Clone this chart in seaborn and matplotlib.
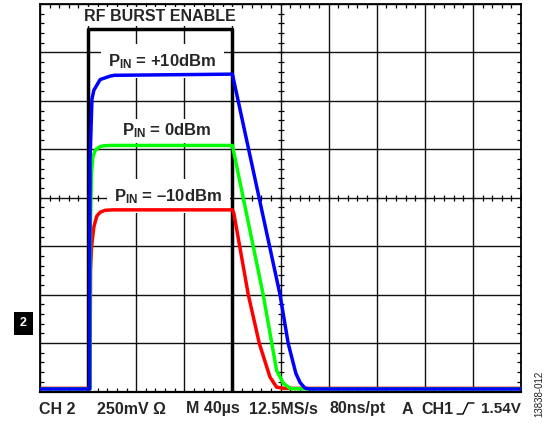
import numpy as np
import pandas as pd
import matplotlib
matplotlib.use("Agg")
import matplotlib.pyplot as plt
from matplotlib.lines import Line2D
import seaborn as sns

# ---- data (time in µs, 40 µs/div; level in V, 250 mV/div) ----
burst_t = [0, 40, 40, 160, 160, 400]
burst_v = [-0.012, -0.012, 1.8725, 1.8725, -0.012, -0.012]

red_t = [0, 41.6, 42, 42.8, 43.6, 44.8, 47.2, 50, 54, 60, 160, 161.2, 173.2, 182.4, 191.2, 196.8, 203.6, 400]
red_v = [0.0162, 0.0162, 0.625, 0.7375, 0.7875, 0.85, 0.905, 0.925, 0.935, 0.9375, 0.9375, 0.92, 0.5, 0.2475, 0.075, 0.022, 0.0162, 0.0162]

green_t = [0, 41.6, 42, 42.8, 44, 46, 48.8, 52, 58, 160, 185.6, 192.8, 196.8, 202.4, 208, 212, 400]
green_v = [0.014, 0.014, 0.875, 1.125, 1.2125, 1.245, 1.26, 1.2675, 1.27, 1.27, 0.5, 0.2475, 0.1075, 0.042, 0.016, 0.014, 0.014]

blue_t = [0, 41.2, 41.4, 41.6, 43.2, 44.8, 50, 58.4, 62, 160, 199.6, 206.4, 212.8, 216.4, 220.4, 224.4, 400]
blue_v = [0.013, 0.013, 0.75, 1.19, 1.51, 1.555, 1.61, 1.628, 1.632, 1.638, 0.5, 0.248, 0.093, 0.045, 0.017, 0.013, 0.013]

trace_labels = ["P$_{\\mathbf{IN}}$ = +10dBm", "P$_{\\mathbf{IN}}$ = 0dBm", "P$_{\\mathbf{IN}}$ = \u201310dBm"]
status_texts = ["CH 2", "250mV \u03a9", "M 40\u00b5s", "12.5MS/s", "80ns/pt", "A", "CH1", "1.54V"]

T_DIV, V_DIV = 40.0, 0.25

sns.set_style("white")
plt.rcParams["font.family"] = ["Liberation Sans", "DejaVu Sans"]
plt.rcParams["mathtext.fontset"] = "custom"
plt.rcParams["mathtext.rm"] = "Liberation Sans:bold"
plt.rcParams["mathtext.bf"] = "Liberation Sans:bold"
plt.rcParams["mathtext.it"] = "Liberation Sans:bold"

W, H = 551, 425
fig = plt.figure(figsize=(W / 100, H / 100), dpi=100)
ax = fig.add_axes([40 / W, (H - 391.5) / H, 481 / W, 387.5 / H])

ax.set_xlim(0, 10 * T_DIV)
ax.set_ylim(0, 8 * V_DIV)
ax.set_xticks(np.arange(0, 10 * T_DIV + 1, T_DIV))
ax.set_yticks(np.arange(0, 8 * V_DIV + 1e-9, V_DIV))
ax.set_xticks(np.arange(0, 10 * T_DIV + 1, T_DIV / 5), minor=True)
ax.set_yticks(np.arange(0, 8 * V_DIV + 1e-9, V_DIV / 5), minor=True)
ax.set_xticklabels([])
ax.set_yticklabels([])
ax.grid(True, which="major", color="#111111", lw=1.0, zorder=0)
ax.set_axisbelow(True)
ax.tick_params(which="major", length=0)
ax.tick_params(which="minor", direction="in", length=3, width=0.9, color="black",
               top=True, bottom=True, left=True, right=True)
for s in ax.spines.values():
    s.set_linewidth(1.3)
    s.set_color("black")
ax.spines["bottom"].set_linewidth(1.6)

# crosshair minor ticks on the center lines
xm = np.arange(0, 10 * T_DIV + 1, T_DIV / 5)
ym = np.arange(0, 8 * V_DIV + 1e-9, V_DIV / 5)
ax.plot(xm, np.full_like(xm, 4 * V_DIV), ls="none", marker="|", ms=4, mew=0.9, color="black", zorder=1)
ax.plot(np.full_like(ym, 5 * T_DIV), ym, ls="none", marker="_", ms=4, mew=0.9, color="black", zorder=1)

# text labels with white background
lab_kw = dict(ha="center", va="center", fontsize=11.5, fontweight="bold", zorder=2.5,
              bbox=dict(boxstyle="square,pad=0.15", fc="white", ec="none"))
wide_box = dict(boxstyle="square,pad=0.45", fc="white", ec="none")
ax.text(2.49 * T_DIV, 7.74 * V_DIV, "RF BURST ENABLE", **lab_kw)
ax.text(2.55 * T_DIV, 6.82 * V_DIV, trace_labels[0], **{**lab_kw, "fontsize": 12, "bbox": wide_box})
ax.text(2.64 * T_DIV, 5.38 * V_DIV, trace_labels[1], **{**lab_kw, "fontsize": 12})
ax.text(2.67 * T_DIV, 4.03 * V_DIV, trace_labels[2], **{**lab_kw, "fontsize": 12, "bbox": wide_box})

# traces
def draw(t, v, color, lw, z):
    df = pd.DataFrame({"t": t, "v": v})
    sns.lineplot(data=df, x="t", y="v", ax=ax, color=color, lw=lw, sort=False,
                 estimator=None, zorder=z, solid_joinstyle="round")

draw(burst_t, burst_v, "black", 2.5, 3)
draw(red_t, red_v, "#ff0000", 2.5, 4)
draw(green_t, green_v, "#00ff00", 2.5, 5)
draw(blue_t, blue_v, "#0000ff", 2.5, 6)
ax.set_xlabel("")
ax.set_ylabel("")

# status bar text
def ftext(x, y, s, **kw):
    fig.text(x / W, 1 - y / H, s, **kw)

bar_kw = dict(fontsize=11.5, fontweight="bold", va="center", ha="left")
xs = [39, 97, 186, 249, 329, 402, 421]
for x, s in zip(xs, status_texts[:-1]):
    ftext(x, 409, s, **bar_kw)
ftext(521, 409, status_texts[-1], **{**bar_kw, "ha": "right", "fontsize": 11})
# trigger edge symbol
fig.add_artist(Line2D(np.array([457, 463, 468, 474]) / W,
                      1 - np.array([414, 414, 403, 403]) / H, color="black", lw=1.0))

# channel marker
ftext(23.5, 323.5, "2", color="white", fontsize=9, fontweight="bold", ha="center", va="center",
      bbox=dict(boxstyle="square,pad=0.45", fc="black", ec="none"))

# figure id
ftext(539, 394, "13838-012", fontsize=7, rotation=90, ha="center", va="center", color="#222222")

fig.savefig("out.png", dpi=100)
